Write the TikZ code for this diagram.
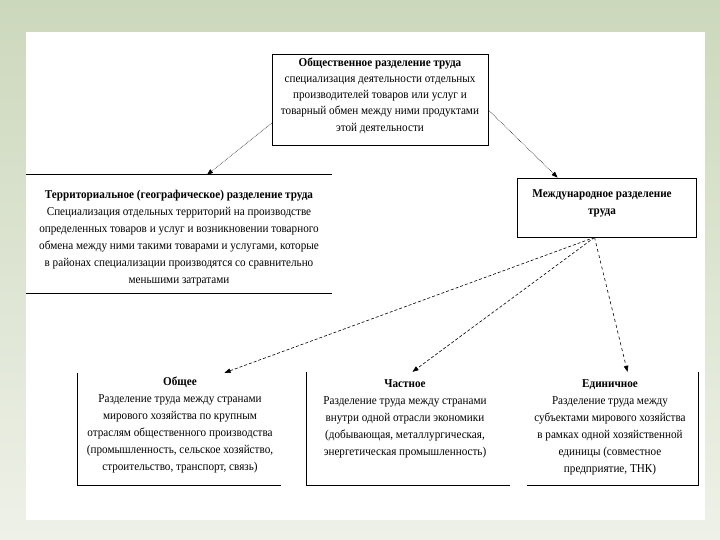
\documentclass[tikz,border=0pt]{standalone}
\usepackage{fontspec}
\setmainfont[FakeStretch=0.93]{Liberation Serif}
\usetikzlibrary{arrows.meta,calc}
\definecolor{bgtop}{HTML}{CCD8BC}
\definecolor{bgbot}{HTML}{EEF1E8}
\tikzset{
  box/.style={draw=none, inner sep=0pt, minimum width=#1},
  txt/.style={align=center, inner sep=0pt, font=\fontsize{12}{17}\selectfont},
  txttop/.style={align=center, inner sep=0pt, font=\fontsize{12}{16.3}\selectfont},
  edge/.style={line width=0.8pt},
  conn/.style={line width=0.6pt, -{Triangle[length=6pt,width=4.5pt]}},
}
\begin{document}
\begin{tikzpicture}[x=1pt,y=-1pt]
\useasboundingbox (0,0) rectangle (720,540);
\shade[top color=bgtop, bottom color=bgbot] (0,0) rectangle (720,540);
\fill[white] (26,32) rectangle (705,520);

% boxes
\node[box=216pt, minimum height=91pt, draw=black, line width=0.8pt] (top) at (380,99.5) {};
\node[box=306pt, minimum height=118pt] (terr) at (179,234) {};
\node[box=179pt, minimum height=59pt, draw=black, line width=0.8pt] (intl) at (606.5,207.5) {};
\node[box=203pt, minimum height=112pt] (gen) at (179.5,429) {};
\node[box=203pt, minimum height=113pt] (part) at (408.5,428.5) {};
\node[box=171pt, minimum height=113pt] (unit) at (612.5,428.5) {};

\draw[edge] (terr.north west) -- (terr.north east);
\draw[edge] (terr.south west) -- (terr.south east);
\draw[edge] (gen.north west) -- (gen.south west) -- (gen.south east);
\draw[edge] (part.north west) -- (part.south west) -- (part.south east);
\draw[edge] (unit.south west) -- (unit.south east) -- (unit.north east);

% texts
\node[txttop] (toptxt) at (380,95.5) {\textbf{Общественное разделение труда}\\
специализация деятельности отдельных\\
производителей товаров или услуг и\\
товарный обмен между ними продуктами\\
этой деятельности};

\node[txt] (terrtxt) at (179,238) {\textbf{Территориальное (географическое) разделение труда}\\
Специализация отдельных территорий на производстве\\
определенных товаров и услуг и возникновении товарного\\
обмена между ними такими товарами и услугами, которые\\
в районах специализации производятся со сравнительно\\
меньшими затратами};

\node[txt] (intltxt) at (602,203.5) {\textbf{Международное разделение}\\
\textbf{труда}};

\node[txt] (gentxt) at (180,425) {\textbf{Общее}\\
Разделение труда между странами\\
мирового хозяйства по крупным\\
отраслям общественного производства\\
(промышленность, сельское хозяйство,\\
строительство, транспорт, связь)};

\node[txt] (parttxt) at (405,418.5) {\textbf{Частное}\\
Разделение труда между странами\\
внутри одной отрасли экономики\\
(добывающая, металлургическая,\\
энергетическая промышленность)};

\node[txt] (unittxt) at (610,427.5) {\textbf{Единичное}\\
Разделение труда между\\
субъектами мирового хозяйства\\
в рамках одной хозяйственной\\
единицы (совместное\\
предприятие, ТНК)};

% connectors
\draw[conn, densely dotted] ([yshift=-23.5pt]top.west) -- ([xshift=28pt]terr.north);
\draw[conn, densely dotted] ([yshift=-10.5pt]top.east) -- ([xshift=41pt]intl.north west);
\draw[conn, densely dashed] ([xshift=-12pt]intl.south) -- ([xshift=45pt]gen.north);
\draw[conn, densely dashed] ([xshift=-12pt]intl.south) -- ([xshift=4pt]part.north);
\draw[conn, dashed] ([xshift=-12pt]intl.south) -- ([xshift=15pt]unit.north);
\end{tikzpicture}
\end{document}
